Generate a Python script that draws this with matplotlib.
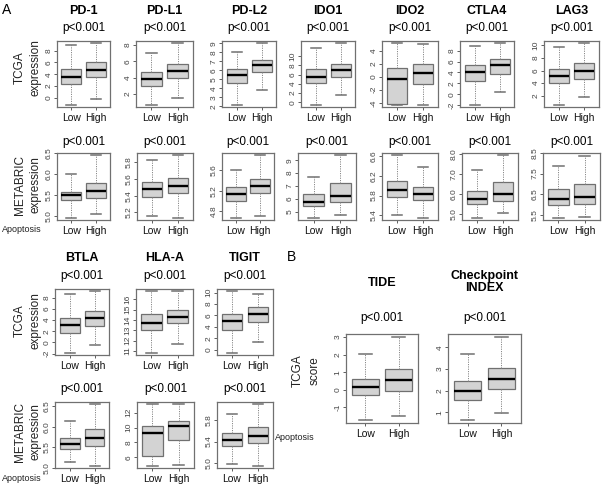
import matplotlib
matplotlib.use('Agg')
import matplotlib.pyplot as plt

plt.rcParams['font.family'] = ['Liberation Sans', 'DejaVu Sans']

W, H = 603, 486

genes_a1 = ['PD-1', 'PD-L1', 'PD-L2', 'IDO1', 'IDO2', 'CTLA4', 'LAG3']
genes_a2 = ['BTLA', 'HLA-A', 'TIGIT']
scores_b = ['TIDE', 'Checkpoint\nINDEX']
groups = ['Low', 'High']
p_text = 'p<0.001'

# box stats: [lower whisker, Q1, median, Q3, upper whisker]
tcga_low = {
    'PD-1': [-1.1, 2.36, 3.6, 4.9, 8.9],
    'PD-L1': [0.67, 3.0, 3.85, 4.7, 7.04],
    'PD-L2': [2.2, 4.55, 5.45, 6.2, 8.0],
    'IDO1': [-0.5, 4.1, 5.55, 7.2, 11.8],
    'IDO2': [-4.26, -4.2, -0.3, 1.3, 5.1],
    'CTLA4': [-1.85, 2.45, 4.1, 5.4, 8.9],
    'LAG3': [0.6, 4.0, 5.2, 6.3, 9.7],
    'BTLA': [-1.8, 1.67, 3.1, 4.35, 8.56],
    'HLA-A': [10.84, 13.0, 13.68, 14.55, 16.75],
    'TIGIT': [-0.47, 3.5, 5.06, 6.28, 10.2],
}
tcga_high = {
    'PD-1': [-0.1, 3.57, 4.8, 6.0, 9.2],
    'PD-L1': [1.44, 3.98, 4.78, 5.7, 8.2],
    'PD-L2': [3.8, 5.85, 6.6, 7.2, 9.0],
    'IDO1': [1.5, 5.4, 7.0, 8.4, 12.8],
    'IDO2': [-4.26, -1.07, 0.6, 2.0, 5.0],
    'CTLA4': [0.4, 3.8, 5.3, 6.5, 9.3],
    'LAG3': [1.85, 4.7, 5.9, 7.2, 10.3],
    'BTLA': [-0.42, 2.86, 4.3, 5.67, 9.1],
    'HLA-A': [11.71, 13.65, 14.32, 14.97, 16.75],
    'TIGIT': [1.34, 4.94, 6.28, 7.44, 9.8],
}
metabric_low = {
    'PD-1': [4.96, 5.39, 5.5, 5.57, 6.01],
    'PD-L1': [5.16, 5.38, 5.48, 5.56, 5.83],
    'PD-L2': [4.68, 5.01, 5.14, 5.27, 5.6],
    'IDO1': [4.53, 5.44, 5.73, 6.36, 7.66],
    'IDO2': [5.41, 5.76, 5.92, 6.1, 6.62],
    'CTLA4': [4.82, 5.48, 5.75, 6.15, 7.17],
    'LAG3': [5.37, 5.97, 6.26, 6.74, 7.87],
    'BTLA': [5.14, 5.46, 5.58, 5.72, 6.14],
    'HLA-A': [4.9, 6.18, 9.33, 10.2, 13.1],
    'TIGIT': [4.98, 5.32, 5.43, 5.55, 5.9],
}
metabric_high = {
    'PD-1': [5.04, 5.44, 5.59, 5.8, 6.45],
    'PD-L1': [5.14, 5.43, 5.52, 5.61, 5.88],
    'PD-L2': [4.7, 5.15, 5.29, 5.44, 5.89],
    'IDO1': [4.74, 5.73, 6.25, 7.21, 9.38],
    'IDO2': [5.35, 5.71, 5.83, 5.97, 6.38],
    'CTLA4': [5.03, 5.65, 5.98, 6.57, 7.92],
    'LAG3': [5.42, 6.05, 6.39, 6.98, 8.35],
    'BTLA': [5.06, 5.54, 5.72, 5.94, 6.54],
    'HLA-A': [5.0, 8.3, 10.2, 10.9, 13.1],
    'TIGIT': [4.96, 5.37, 5.5, 5.66, 6.08],
}
score_low = {
    'TIDE': [-1.71, -0.32, 0.15, 0.63, 2.04],
    'Checkpoint\nINDEX': [0.66, 1.58, 2.0, 2.43, 3.69],
}
score_high = {
    'TIDE': [-1.49, -0.06, 0.57, 1.2, 2.99],
    'Checkpoint\nINDEX': [0.97, 2.08, 2.55, 3.05, 4.46],
}

tcga_ticks = {
    'PD-1': [0, 2, 4, 6, 8],
    'PD-L1': [2, 4, 6, 8],
    'PD-L2': [2, 3, 4, 5, 6, 7, 8, 9],
    'IDO1': [0, 2, 4, 6, 8, 10],
    'IDO2': [-4, -2, 0, 2, 4],
    'CTLA4': [-2, 0, 2, 4, 6, 8],
    'LAG3': [2, 4, 6, 8, 10],
    'BTLA': [-2, 0, 2, 4, 6, 8],
    'HLA-A': [11, 12, 13, 14, 15, 16],
    'TIGIT': [0, 2, 4, 6, 8, 10],
}
metabric_ticks = {
    'PD-1': [5.0, 5.5, 6.0, 6.5],
    'PD-L1': [5.2, 5.4, 5.6, 5.8],
    'PD-L2': [4.8, 5.2, 5.6],
    'IDO1': [5, 6, 7, 8, 9],
    'IDO2': [5.4, 5.8, 6.2, 6.6],
    'CTLA4': [5.0, 6.0, 7.0, 8.0],
    'LAG3': [5.5, 6.5, 7.5, 8.5],
    'BTLA': [5.0, 5.5, 6.0, 6.5],
    'HLA-A': [6, 8, 10, 12],
    'TIGIT': [5.0, 5.4, 5.8],
}
score_ticks = {
    'TIDE': [-1, 0, 1, 2, 3],
    'Checkpoint\nINDEX': [1, 2, 3, 4],
}

# frame positions in pixels (left, right), (top, bottom)
row1_x = [(57, 110), (136, 193), (222, 276), (301, 355), (382, 438), (460, 514), (544, 599)]
row2_x = [(57, 110), (137, 193), (222, 274), (298, 356), (382, 438), (462, 518), (543, 600)]
row3_x = [(55, 109), (136, 193), (217, 273)]
row4_x = [(55, 109), (137, 194), (217, 273)]
b_x = [(346, 418), (448, 521)]

fig = plt.figure(figsize=(W / 100, H / 100), dpi=100)

EDGE = '#707070'


def fx(x):
    return x / W


def fy(y):
    return 1 - y / H


def ftext(x, y, s, **kw):
    fig.text(fx(x), fy(y), s, ha=kw.pop('ha', 'center'), va=kw.pop('va', 'center'), **kw)


def fmt(v):
    if isinstance(v, int):
        return str(v)
    return '%.1f' % v


def panel(xr, yr, lo, hi, ticks):
    ax = fig.add_axes([fx(xr[0]), fy(yr[1]), (xr[1] - xr[0]) / W, (yr[1] - yr[0]) / H])
    stats = []
    for s, g in zip([lo, hi], groups):
        stats.append(dict(whislo=s[0], q1=s[1], med=s[2], q3=s[3], whishi=s[4], label=g))
    ax.bxp(stats, positions=[1, 2], widths=0.8, capwidths=0.4, showfliers=False,
           patch_artist=True,
           boxprops=dict(facecolor='#d3d3d3', edgecolor=EDGE, linewidth=0.9),
           whiskerprops=dict(color='#888888', linewidth=0.7, linestyle=(0, (1.2, 1.2))),
           capprops=dict(color=EDGE, linewidth=1.1),
           medianprops=dict(color='black', linewidth=1.7))
    ymin = min(lo[0], hi[0])
    ymax = max(lo[4], hi[4])
    pad = 0.04 * (ymax - ymin)
    ax.set_ylim(ymin - pad, ymax + pad)
    ax.set_xlim(0.42, 2.58)
    ax.set_yticks(ticks)
    ax.set_yticklabels([fmt(t) for t in ticks])
    ax.set_xticks([1, 2])
    ax.set_xticklabels(groups)
    ax.tick_params(axis='y', labelrotation=90, labelsize=6, length=2, width=0.6,
                   pad=1, colors='#444444')
    ax.tick_params(axis='x', labelsize=7.5, length=2, width=0.6, pad=2,
                   colors='#444444', labelcolor='#111111')
    for lbl in ax.get_yticklabels():
        lbl.set_va('center')
    for sp in ax.spines.values():
        sp.set_color(EDGE)
        sp.set_linewidth(0.9)
    return ax


# A, top block
for i, g in enumerate(genes_a1):
    x0, x1 = row1_x[i]
    panel((x0, x1), (41, 107), tcga_low[g], tcga_high[g], tcga_ticks[g])
    ftext((x0 + x1) / 2, 11, g, fontsize=9, fontweight='bold')
    ftext((x0 + x1) / 2, 28, p_text, fontsize=8.5)
    x0, x1 = row2_x[i]
    panel((x0, x1), (153, 220), metabric_low[g], metabric_high[g], metabric_ticks[g])
    ftext((x0 + x1) / 2, 142, p_text, fontsize=8.5)

# A, bottom block
for i, g in enumerate(genes_a2):
    x0, x1 = row3_x[i]
    panel((x0, x1), (289, 355), tcga_low[g], tcga_high[g], tcga_ticks[g])
    ftext((x0 + x1) / 2, 258, g, fontsize=9, fontweight='bold')
    ftext((x0 + x1) / 2, 276, p_text, fontsize=8.5)
    x0, x1 = row4_x[i]
    panel((x0, x1), (402, 468), metabric_low[g], metabric_high[g], metabric_ticks[g])
    ftext((x0 + x1) / 2, 389, p_text, fontsize=8.5)

# B
for i, s in enumerate(scores_b):
    x0, x1 = b_x[i]
    panel((x0, x1), (334, 423), score_low[s], score_high[s], score_ticks[s])
    ftext((x0 + x1) / 2, 318, p_text, fontsize=8.5)
ftext(sum(b_x[0]) / 2, 283, scores_b[0], fontsize=9, fontweight='bold')
ftext(sum(b_x[1]) / 2, 282, scores_b[1], fontsize=9, fontweight='bold', linespacing=1.0)

# side labels
for y, top in [(68, 'TCGA'), (185, 'METABRIC'), (321, 'TCGA'), (432, 'METABRIC')]:
    ftext(20, y, top, fontsize=8.5, rotation=90, color='#222222')
    ftext(36, y, 'expression', fontsize=8.5, rotation=90, color='#222222')
ftext(298, 371, 'TCGA', fontsize=8.5, rotation=90, color='#222222')
ftext(315, 371, 'score', fontsize=8.5, rotation=90, color='#222222')

ftext(2, 229, 'Apoptosis', fontsize=6.5, ha='left', color='#222222')
ftext(2, 478, 'Apoptosis', fontsize=6.5, ha='left', color='#222222')
ftext(275, 437, 'Apoptosis', fontsize=6.5, ha='left', color='#222222')

ftext(7, 10, 'A', fontsize=10)
ftext(292, 257, 'B', fontsize=10)

fig.savefig('out.png', dpi=100, facecolor='white')
